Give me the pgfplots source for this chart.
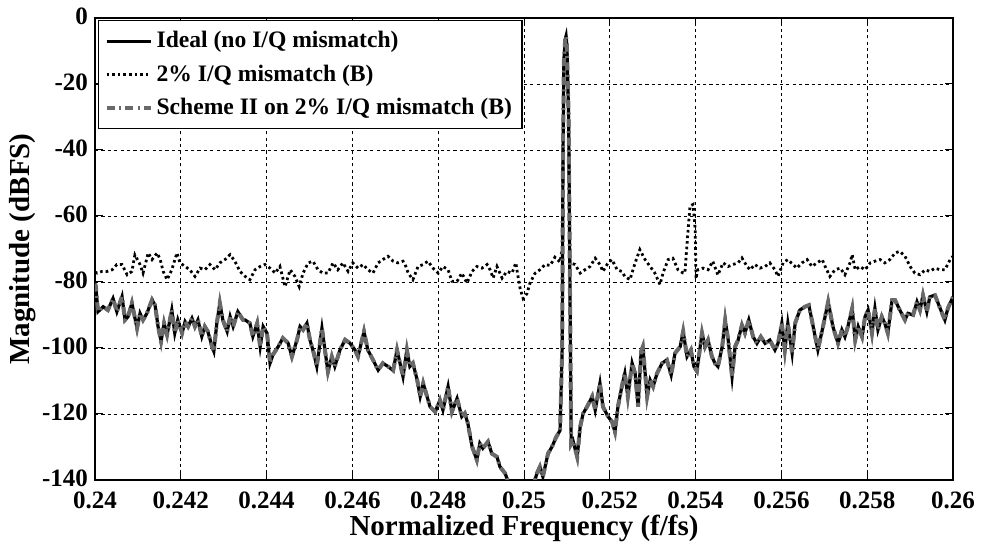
\documentclass[border=0pt]{standalone}
\usepackage{fontspec}
\setmainfont{Liberation Serif}
\usepackage{pgfplots}
\pgfplotsset{compat=1.18}
\usepackage{pgfplotstable}

\pgfplotstableread{
x y
0.24000 -80.5
0.24002 -81.4
0.24007 -89.0
0.24019 -87.5
0.24030 -88.5
0.24042 -85.0
0.24051 -89.0
0.24063 -84.4
0.24070 -91.5
0.24077 -90.5
0.24086 -86.4
0.24098 -94.0
0.24105 -89.5
0.24112 -91.5
0.24121 -89.5
0.24133 -85.4
0.24140 -87.0
0.24147 -93.5
0.24154 -98.0
0.24161 -92.5
0.24168 -96.0
0.24179 -88.5
0.24186 -95.5
0.24193 -91.5
0.24203 -95.5
0.24210 -92.0
0.24217 -93.5
0.24226 -91.0
0.24233 -93.5
0.24240 -91.5
0.24249 -96.5
0.24256 -93.5
0.24263 -95.0
0.24273 -99.6
0.24277 -101.0
0.24284 -92.5
0.24291 -86.4
0.24298 -91.5
0.24308 -95.0
0.24315 -90.5
0.24322 -93.5
0.24333 -89.0
0.24345 -91.5
0.24350 -91.5
0.24361 -92.5
0.24368 -96.5
0.24378 -92.5
0.24385 -99.6
0.24392 -93.5
0.24401 -95.5
0.24408 -104.6
0.24415 -102.0
0.24427 -99.6
0.24438 -97.0
0.24450 -98.5
0.24459 -102.6
0.24471 -97.5
0.24478 -93.5
0.24485 -94.5
0.24494 -92.5
0.24501 -97.5
0.24510 -101.6
0.24517 -105.6
0.24529 -94.0
0.24536 -100.6
0.24543 -107.2
0.24552 -102.6
0.24559 -105.6
0.24571 -100.6
0.24583 -97.5
0.24594 -98.5
0.24606 -100.6
0.24613 -102.6
0.24627 -95.0
0.24636 -100.6
0.24648 -103.6
0.24660 -106.7
0.24671 -104.6
0.24683 -105.6
0.24695 -106.8
0.24704 -100.6
0.24711 -104.6
0.24718 -108.7
0.24727 -100.6
0.24734 -105.6
0.24741 -104.6
0.24751 -109.7
0.24758 -114.7
0.24765 -110.7
0.24774 -114.7
0.24781 -117.8
0.24793 -119.3
0.24804 -115.8
0.24811 -118.8
0.24823 -111.7
0.24832 -119.3
0.24844 -115.3
0.24855 -120.8
0.24862 -119.8
0.24869 -122.8
0.24879 -129.9
0.24890 -133.9
0.24897 -128.9
0.24904 -130.4
0.24916 -128.4
0.24925 -132.0
0.24937 -133.0
0.24944 -136.0
0.24956 -138.0
0.24963 -140.5
0.24972 -143.0
0.24986 -145.0
0.25002 -147.0
0.25019 -143.0
0.25030 -138.0
0.25037 -136.0
0.25044 -139.0
0.25056 -132.0
0.25065 -130.0
0.25075 -127.0
0.25084 -125.0
0.25089 -100.0
0.25091 -40.0
0.25093 -13.0
0.25096 -6.5
0.25098 -5.5
0.25100 -8.5
0.25104 -30.0
0.25107 -80.0
0.25110 -129.0
0.25114 -128.0
0.25124 -133.0
0.25131 -123.8
0.25138 -119.8
0.25147 -117.8
0.25159 -114.7
0.25166 -118.8
0.25177 -110.7
0.25184 -117.8
0.25196 -120.8
0.25205 -122.3
0.25212 -125.4
0.25219 -117.8
0.25228 -111.7
0.25235 -107.7
0.25242 -114.7
0.25252 -104.6
0.25259 -107.7
0.25266 -117.8
0.25273 -101.0
0.25277 -99.6
0.25287 -114.7
0.25294 -109.7
0.25301 -111.7
0.25310 -107.7
0.25322 -104.6
0.25333 -103.6
0.25343 -108.2
0.25352 -101.6
0.25364 -99.6
0.25371 -95.0
0.25380 -102.6
0.25389 -100.6
0.25396 -105.6
0.25403 -107.0
0.25415 -95.5
0.25422 -99.6
0.25429 -97.6
0.25438 -102.6
0.25445 -104.6
0.25452 -105.6
0.25462 -99.6
0.25469 -91.5
0.25476 -97.6
0.25485 -108.7
0.25492 -99.6
0.25499 -97.6
0.25508 -93.1
0.25515 -95.5
0.25524 -91.5
0.25534 -96.6
0.25543 -98.6
0.25552 -96.6
0.25562 -98.6
0.25573 -97.6
0.25585 -100.6
0.25592 -98.6
0.25601 -92.5
0.25608 -100.6
0.25615 -92.5
0.25625 -101.6
0.25632 -92.5
0.25643 -88.5
0.25655 -87.5
0.25664 -87.0
0.25674 -93.5
0.25685 -100.6
0.25697 -93.5
0.25709 -86.0
0.25720 -93.5
0.25732 -98.6
0.25741 -94.5
0.25748 -96.6
0.25755 -93.5
0.25765 -88.0
0.25772 -97.6
0.25779 -93.5
0.25788 -96.6
0.25795 -90.5
0.25802 -88.5
0.25811 -95.5
0.25818 -88.0
0.25825 -94.5
0.25834 -90.5
0.25841 -92.5
0.25848 -95.5
0.25858 -85.5
0.25865 -85.5
0.25876 -88.5
0.25888 -91.5
0.25895 -89.5
0.25907 -90.0
0.25916 -86.0
0.25923 -88.5
0.25930 -84.0
0.25939 -89.0
0.25946 -84.5
0.25958 -84.0
0.25970 -88.0
0.25981 -91.5
0.25988 -88.0
0.26000 -84.5
}\ideal

\pgfplotstableread{
x y
0.24000 -77.0
0.24005 -77.3
0.24016 -76.8
0.24028 -76.8
0.24040 -76.3
0.24051 -74.7
0.24063 -74.7
0.24075 -77.8
0.24086 -76.8
0.24093 -71.8
0.24105 -74.7
0.24112 -77.3
0.24124 -71.2
0.24133 -73.2
0.24145 -71.2
0.24152 -73.2
0.24159 -76.8
0.24168 -79.3
0.24179 -76.3
0.24191 -71.2
0.24198 -74.2
0.24210 -75.3
0.24221 -76.3
0.24233 -78.3
0.24245 -75.8
0.24256 -76.3
0.24268 -74.7
0.24280 -76.3
0.24291 -74.2
0.24303 -73.2
0.24315 -71.7
0.24326 -73.7
0.24338 -76.8
0.24350 -78.3
0.24361 -79.3
0.24373 -76.3
0.24385 -75.3
0.24396 -74.7
0.24408 -75.8
0.24420 -77.3
0.24431 -75.3
0.24443 -81.4
0.24455 -76.3
0.24466 -78.3
0.24476 -81.4
0.24485 -77.3
0.24497 -74.2
0.24508 -73.7
0.24520 -76.3
0.24531 -77.3
0.24543 -77.3
0.24555 -74.2
0.24566 -76.3
0.24578 -74.2
0.24590 -76.8
0.24601 -74.2
0.24613 -75.8
0.24625 -74.7
0.24636 -76.3
0.24648 -77.3
0.24660 -74.2
0.24671 -73.2
0.24683 -72.2
0.24695 -73.7
0.24706 -74.2
0.24718 -73.7
0.24723 -74.7
0.24730 -77.3
0.24741 -79.3
0.24753 -75.3
0.24765 -74.7
0.24776 -73.7
0.24788 -75.8
0.24800 -77.3
0.24811 -75.3
0.24823 -76.3
0.24832 -79.8
0.24844 -79.8
0.24855 -77.3
0.24867 -80.3
0.24879 -76.8
0.24890 -75.3
0.24902 -75.8
0.24914 -74.7
0.24921 -76.3
0.24928 -78.8
0.24937 -75.3
0.24949 -78.8
0.24960 -76.8
0.24972 -77.3
0.24981 -74.2
0.24986 -78.3
0.24991 -82.0
0.24998 -85.0
0.25007 -83.5
0.25014 -80.3
0.25026 -77.3
0.25037 -76.3
0.25049 -74.7
0.25061 -75.0
0.25072 -72.5
0.25084 -74.0
0.25089 -70.0
0.25091 -40.0
0.25093 -13.0
0.25096 -6.5
0.25098 -5.5
0.25100 -8.5
0.25104 -30.0
0.25107 -74.2
0.25119 -74.7
0.25131 -77.3
0.25142 -76.3
0.25154 -75.3
0.25166 -72.8
0.25177 -74.7
0.25184 -76.8
0.25196 -74.2
0.25205 -73.2
0.25217 -76.3
0.25228 -76.8
0.25235 -78.3
0.25247 -79.3
0.25259 -74.2
0.25270 -70.2
0.25282 -73.2
0.25294 -75.3
0.25305 -77.3
0.25317 -80.8
0.25324 -77.3
0.25336 -73.2
0.25347 -72.8
0.25359 -76.3
0.25371 -77.3
0.25375 -77.3
0.25382 -65.0
0.25387 -57.0
0.25394 -56.5
0.25399 -64.0
0.25401 -79.0
0.25405 -76.3
0.25417 -75.8
0.25429 -76.3
0.25440 -73.7
0.25452 -77.9
0.25464 -74.2
0.25476 -75.3
0.25487 -74.7
0.25499 -74.2
0.25508 -72.7
0.25520 -75.3
0.25527 -76.3
0.25538 -74.7
0.25550 -75.8
0.25562 -75.3
0.25573 -74.2
0.25585 -76.3
0.25592 -78.3
0.25604 -74.2
0.25615 -73.2
0.25627 -74.7
0.25636 -75.8
0.25648 -74.2
0.25660 -73.2
0.25671 -75.3
0.25683 -74.2
0.25695 -73.2
0.25702 -75.3
0.25713 -78.3
0.25725 -76.3
0.25737 -75.8
0.25748 -77.8
0.25760 -74.2
0.25765 -71.7
0.25772 -76.3
0.25783 -75.3
0.25795 -76.3
0.25807 -74.2
0.25818 -73.7
0.25830 -73.2
0.25841 -74.2
0.25853 -73.2
0.25865 -71.2
0.25876 -70.7
0.25888 -72.2
0.25900 -75.3
0.25911 -77.3
0.25923 -77.8
0.25935 -76.3
0.25946 -76.8
0.25958 -75.8
0.25970 -76.3
0.25981 -76.3
0.25993 -73.3
0.26000 -72.2
}\mismatch

\definecolor{schemegray}{RGB}{105,105,105}

\begin{document}
\begin{tikzpicture}
\begin{axis}[
  width=429pt, height=231pt, scale only axis,
  xmin=0.24, xmax=0.26, ymin=-140, ymax=0,
  xtick={0.24,0.242,0.244,0.246,0.248,0.25,0.252,0.254,0.256,0.258,0.26},
  xticklabels={0.24,0.242,0.244,0.246,0.248,0.25,0.252,0.254,0.256,0.258,0.26},
  ytick={-140,-120,-100,-80,-60,-40,-20,0},
  yticklabels={-140,-120,-100,-80,-60,-40,-20,0},
  scaled x ticks=false,
  tick pos=both, tick align=inside, major tick length=4pt,
  tick style={black, line width=0.5pt},
  grid=major,
  grid style={black, line width=0.45pt, dash pattern=on 1.6pt off 1.6pt},
  axis line style={black, line width=0.6pt},
  ticklabel style={font=\bfseries\fontsize{12.5}{14}\selectfont},
  xticklabel style={yshift=-2.5pt},
  yticklabel style={yshift=1pt},
  label style={font=\bfseries\fontsize{14.5}{16}\selectfont},
  xlabel={Normalized Frequency (f/fs)},
  ylabel={Magnitude (dBFS)},
  xlabel style={yshift=4pt},
  ylabel style={yshift=-4pt},
  legend style={at={(0.0035,0.996)}, anchor=north west, draw=black, line width=0.6pt,
    fill=white, font=\bfseries\fontsize{11.8}{13}\selectfont, row sep=3pt,
    inner xsep=3pt, inner ysep=3.5pt, cells={anchor=west}},
  legend image code/.code={\draw[#1] (0pt,0pt) -- (22pt,0pt);},
]
\addplot[black, line width=1.6pt] table[x=x, y=y] {\ideal};
\addlegendentry{Ideal (no I/Q mismatch)}
\addplot[black, line width=1.4pt, dash pattern=on 1.3pt off 1.5pt] table[x=x, y=y] {\mismatch};
\addlegendentry{2\% I/Q mismatch (B)}
\addplot[schemegray, line width=2pt, dash pattern=on 4pt off 2.2pt on 1pt off 2.2pt] table[x=x, y=y] {\ideal};
\addlegendentry{Scheme II on 2\% I/Q mismatch (B)}
\coordinate (ll) at (rel axis cs:0,0);
\coordinate (ur) at (rel axis cs:1,1);
\end{axis}
\pgfresetboundingbox
\path ([shift={(-47.5pt,-32pt)}]ll) rectangle ([shift={(14.5pt,9pt)}]ur);
\end{tikzpicture}
\end{document}
